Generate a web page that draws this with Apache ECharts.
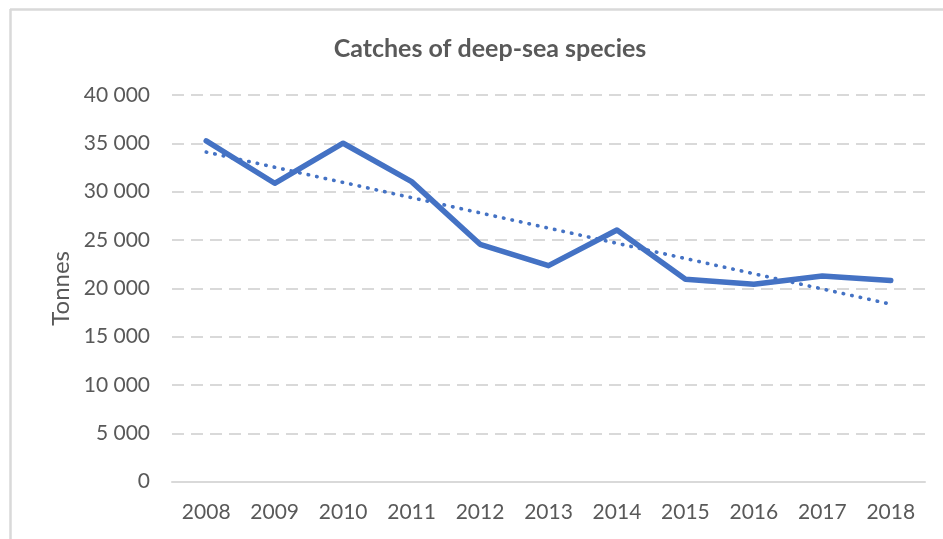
<!DOCTYPE html>
<html>
<head>
<meta charset="utf-8">
<script src="https://cdn.jsdelivr.net/npm/echarts@6/dist/echarts.min.js"></script>
<style>
html,body{margin:0;padding:0;background:#fff;}
#chart{width:943px;height:539px;}
</style>
</head>
<body>
<div id="chart"></div>
<script>
const chartTitle = 'Catches of deep-sea species';
const yAxisName = 'Tonnes';
const years = ['2008','2009','2010','2011','2012','2013','2014','2015','2016','2017','2018'];
const catches = [35250, 30870, 35010, 31040, 24560, 22350, 26040, 20940, 20420, 21280, 20800];
const yMin = 0, yMax = 40000, yStep = 5000;

// Linear trendline (least squares) derived from the data
const n = catches.length;
const xs = catches.map((_, i) => i);
const mx = xs.reduce((a, b) => a + b, 0) / n;
const my = catches.reduce((a, b) => a + b, 0) / n;
let sxy = 0, sxx = 0;
for (let i = 0; i < n; i++) { sxy += (xs[i] - mx) * (catches[i] - my); sxx += (xs[i] - mx) * (xs[i] - mx); }
const slope = sxy / sxx;
const trend = xs.map(x => my + slope * (x - mx));

const FONT = 'Lato';
const TEXT = '#595959';
const chart = echarts.init(document.getElementById('chart'), null, {renderer: 'canvas'});
chart.setOption({
  animation: false,
  backgroundColor: '#fff',
  textStyle: {fontFamily: FONT},
  graphic: [
    {type: 'line', shape: {x1: 10, y1: 9.5, x2: 943, y2: 9.5}, style: {stroke: '#D9D9D9', lineWidth: 2.5}, silent: true},
    {type: 'line', shape: {x1: 10.5, y1: 9, x2: 10.5, y2: 539}, style: {stroke: '#D9D9D9', lineWidth: 2.5}, silent: true},
    {type: 'text', x: 490, y: 49, style: {text: chartTitle, fill: TEXT, font: 'bold 25px Lato', textAlign: 'center', textVerticalAlign: 'middle'}, silent: true}
  ],
  grid: {left: 172, right: 18, top: 95, bottom: 57.3, containLabel: false},
  xAxis: {
    type: 'category',
    data: years,
    boundaryGap: true,
    axisLine: {show: true, lineStyle: {color: '#D9D9D9', width: 2}},
    axisTick: {show: false},
    axisLabel: {color: TEXT, fontSize: 21, fontFamily: FONT, margin: 20}
  },
  yAxis: {
    type: 'value',
    min: yMin, max: yMax, interval: yStep,
    name: yAxisName,
    nameLocation: 'middle',
    nameGap: 97,
    nameRotate: 90,
    nameTextStyle: {color: TEXT, fontSize: 24, fontFamily: FONT},
    axisLine: {show: false},
    axisTick: {show: false},
    axisLabel: {color: TEXT, fontSize: 21, fontFamily: FONT, margin: 22,
      formatter: v => String(v).replace(/\B(?=(\d{3})+(?!\d))/g, ' ')},
    splitLine: {show: true, lineStyle: {color: '#D9D9D9', width: 2, type: [12, 7]}}
  },
  series: [
    {
      name: 'Catches', type: 'line', data: catches,
      showSymbol: false, symbol: 'none', smooth: false,
      lineStyle: {color: '#4472C4', width: 5.5, cap: 'round', join: 'round'},
      z: 3
    },
    {
      name: 'Trend', type: 'line', data: trend,
      showSymbol: false, symbol: 'none',
      lineStyle: {color: '#4472C4', width: 3.6, type: [0.5, 8.2], cap: 'round'},
      z: 2
    }
  ]
});
</script>
</body>
</html>
